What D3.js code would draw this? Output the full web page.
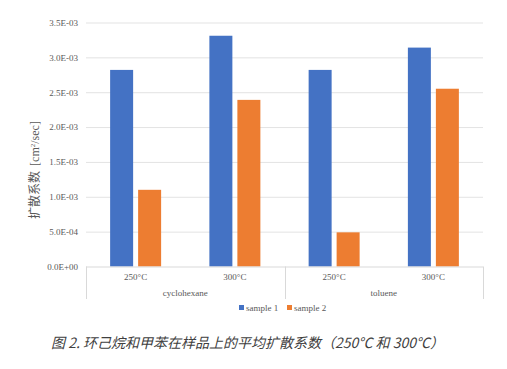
<!DOCTYPE html>
<html>
<head>
<meta charset="utf-8">
<script src="https://cdn.jsdelivr.net/npm/d3@7"></script>
<style>
  html, body { margin: 0; padding: 0; background: #fff; }
  svg text { font-family: "Liberation Serif", "Times New Roman", serif; fill: #595959; }
  .caption { font-family: "Noto Sans CJK SC", sans-serif; font-style: italic; fill: #404040; }
  .ytitle { font-family: "Liberation Serif", "Noto Sans CJK SC", serif; }
</style>
</head>
<body>
<div id="chart"></div>
<script>
// data
const solvents = ['cyclohexane', 'toluene'];
const temps = ['250°C', '300°C'];
const series = ['sample 1', 'sample 2'];
const sample1 = [2.82e-3, 3.31e-3, 2.82e-3, 3.14e-3];
const sample2 = [1.10e-3, 2.39e-3, 0.49e-3, 2.55e-3];
const yTicks = [0, 0.5e-3, 1.0e-3, 1.5e-3, 2.0e-3, 2.5e-3, 3.0e-3, 3.5e-3];
const yTickLabels = ['0.0E+00', '5.0E-04', '1.0E-03', '1.5E-03', '2.0E-03', '2.5E-03', '3.0E-03', '3.5E-03'];
const colors = ['#4472C4', '#ED7D31'];

const w = 507;
const h = 369;
const plot = { left: 86, right: 483, top: 22.5, bottom: 266.5 };

const svg = d3.select('#chart').append('svg').attr('width', w).attr('height', h);

const cats = [];
solvents.forEach((s) => temps.forEach((t) => cats.push({ solvent: s, temp: t, key: s + '|' + t })));

// SCALES ----------------------
const x = d3.scaleBand().domain(cats.map((d) => d.key)).range([plot.left, plot.right]).padding(0);
const xSub = d3.scaleBand().domain(series).range([0, x.bandwidth()]).paddingInner(0.1786).paddingOuter(0.862);
const y = d3.scaleLinear().domain([0, 3.5e-3]).range([plot.bottom, plot.top]);

// grid
svg.append('g')
  .attr('transform', `translate(${plot.left},0)`)
  .call(d3.axisLeft(y).tickValues(yTicks.slice(1)).tickSize(-(plot.right - plot.left)).tickFormat(''))
  .call((g) => g.select('.domain').remove())
  .call((g) => g.selectAll('line').attr('stroke', '#e3e3e3'));

// y labels
svg.append('g')
  .attr('transform', `translate(${plot.left},0)`)
  .call(d3.axisLeft(y).tickValues(yTicks).tickSize(0).tickPadding(8).tickFormat((d, i) => yTickLabels[i]))
  .call((g) => g.select('.domain').remove())
  .call((g) => g.selectAll('text').style('font-size', '9px').attr('fill', '#595959'));

// BARS ------------------------
const barData = [];
cats.forEach((c, i) => {
  barData.push({ key: c.key, s: series[0], v: sample1[i], c: colors[0] });
  barData.push({ key: c.key, s: series[1], v: sample2[i], c: colors[1] });
});
svg.append('g').selectAll('rect').data(barData).enter().append('rect')
  .attr('x', (d) => x(d.key) + xSub(d.s))
  .attr('y', (d) => y(d.v))
  .attr('width', xSub.bandwidth())
  .attr('height', (d) => y(0) - y(d.v))
  .attr('fill', (d) => d.c);

// x axis
const xAxis = svg.append('g');
xAxis.append('line')
  .attr('x1', plot.left).attr('x2', plot.right)
  .attr('y1', plot.bottom + 0.5).attr('y2', plot.bottom + 0.5)
  .attr('stroke', '#d9d9d9');
const seps = [plot.left, x(cats[2].key), plot.right];
xAxis.selectAll('.sep').data(seps).enter().append('line')
  .attr('x1', (d) => Math.round(d) + 0.5).attr('x2', (d) => Math.round(d) + 0.5)
  .attr('y1', plot.bottom).attr('y2', 299)
  .attr('stroke', '#d9d9d9');
xAxis.selectAll('.temp').data(cats).enter().append('text')
  .attr('x', (d) => x(d.key) + x.bandwidth() / 2)
  .attr('y', 280)
  .attr('text-anchor', 'middle')
  .style('font-size', '9px')
  .text((d) => d.temp);
xAxis.selectAll('.solv').data(solvents).enter().append('text')
  .attr('x', (d, i) => x(cats[i * 2].key) + x.bandwidth())
  .attr('y', 296)
  .attr('text-anchor', 'middle')
  .style('font-size', '9px')
  .text((d) => d);

// axis title
svg.append('text')
  .attr('class', 'ytitle')
  .attr('transform', 'translate(39,170) rotate(-90)')
  .attr('text-anchor', 'middle')
  .style('font-size', '12px')
  .html('扩散系数<tspan dx="5">[cm</tspan><tspan dy="-4" style="font-size:7px">2</tspan><tspan dy="4">/sec]</tspan>');

// legend
const legend = svg.append('g').attr('transform', 'translate(239,311)');
const legX = [0, 48];
series.forEach((s, i) => {
  legend.append('rect').attr('x', legX[i]).attr('y', -6).attr('width', 5).attr('height', 5).attr('fill', colors[i]);
  legend.append('text').attr('x', legX[i] + 7).attr('y', 0).style('font-size', '9px').text(s);
});

// caption
svg.append('text')
  .attr('class', 'caption')
  .attr('x', 51)
  .attr('y', 348)
  .style('font-size', '14px')
  .text('图 2. 环己烷和甲苯在样品上的平均扩散系数（250°C 和 300°C）');
</script>
</body>
</html>
